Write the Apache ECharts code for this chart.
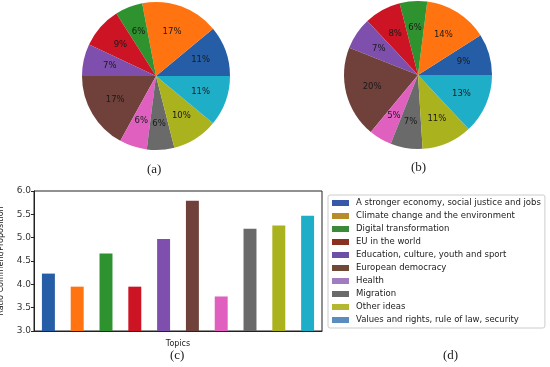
<!DOCTYPE html>
<html>
<head>
<meta charset="utf-8">
<script src="https://cdn.jsdelivr.net/npm/echarts@6/dist/echarts.min.js"></script>
<style>html,body{margin:0;padding:0;background:#fff}#c{width:550px;height:367px}</style>
</head>
<body>
<div id="c"></div>
<script>
const topics = [
  'A stronger economy, social justice and jobs',
  'Climate change and the environment',
  'Digital transformation',
  'EU in the world',
  'Education, culture, youth and sport',
  'European democracy',
  'Health',
  'Migration',
  'Other ideas',
  'Values and rights, rule of law, security'
];
const pieA = [11, 17, 6, 9, 7, 17, 6, 6, 10, 11];
const pieB = [9, 14, 6, 8, 7, 20, 5, 7, 11, 13];
const ratios = [4.23, 3.95, 4.66, 3.95, 4.97, 5.79, 3.74, 5.19, 5.26, 5.47];
const yTicks = [3.0, 3.5, 4.0, 4.5, 5.0, 5.5, 6.0];
const panelLabels = ['(a)', '(b)', '(c)', '(d)'];

const colors = ['#255ea6','#ff7410','#2e922e','#cc1424','#7e4fac','#70403a','#e060c0','#6a6a6a','#aab21e','#1eaec8'];
const legendColors = ['#3558a8','#b88c28','#3a8a3a','#8a3020','#6c50a8','#704838','#a07cc0','#6a6a6a','#b4b830','#5a8cc0'];

const FONT = 'DejaVu Sans';

function midAngles(arr) {
  const total = arr.reduce((a, b) => a + b, 0);
  let cum = 0;
  return arr.map(v => { const m = (cum + v / 2) / total * 2 * Math.PI; cum += v; return m; });
}

function pieSeries(vals, center, r) {
  const mids = midAngles(vals);
  return {
    type: 'pie',
    center: center,
    radius: [0, r],
    startAngle: 0,
    clockwise: false,
    animation: false,
    label: {
      position: 'inside',
      formatter: p => Math.round(p.percent) + '%',
      color: '#1a1a1a',
      fontFamily: FONT,
      fontSize: 8.5
    },
    labelLine: { show: false },
    emphasis: { disabled: true },
    itemStyle: { borderWidth: 0 },
    labelLayout: function (p) {
      const a = mids[p.dataIndex];
      return { dx: 0.1 * r * Math.cos(a), dy: -0.1 * r * Math.sin(a) };
    },
    data: vals.map((v, i) => ({ name: topics[i], value: v, itemStyle: { color: colors[i] } }))
  };
}

const chart = echarts.init(document.getElementById('c'), null, { renderer: 'canvas' });
const titleStyle = { fontFamily: 'Liberation Serif', fontSize: 13, fontWeight: 'normal', color: '#222' };
chart.setOption({
  animation: false,
  title: [
    { text: panelLabels[0], left: 147, top: 163, textStyle: titleStyle, padding: 0 },
    { text: panelLabels[1], left: 411, top: 161, textStyle: titleStyle, padding: 0 },
    { text: panelLabels[2], left: 170, top: 349, textStyle: titleStyle, padding: 0 },
    { text: panelLabels[3], left: 443, top: 349, textStyle: titleStyle, padding: 0 }
  ],
  legend: {
    orient: 'vertical',
    left: 328,
    top: 195,
    padding: [3, 4, 3, 4],
    itemGap: 3,
    itemWidth: 17,
    itemHeight: 6,
    icon: 'rect',
    borderColor: '#cccccc',
    borderWidth: 1,
    borderRadius: 2,
    selectedMode: false,
    textStyle: { fontFamily: FONT, fontSize: 8.5, color: '#222', lineHeight: 10, padding: [0, 0, 0, 2] },
    data: topics.map((t, i) => ({ name: t, itemStyle: { color: legendColors[i] } }))
  },
  grid: {
    left: 34, right: 228, top: 191, bottom: 36,
    outerBoundsMode: 'none',
    containLabel: false,
    show: true, borderColor: '#222', borderWidth: 1, backgroundColor: 'transparent'
  },
  xAxis: {
    type: 'category',
    data: topics,
    name: 'Topics',
    nameLocation: 'middle',
    nameGap: 9,
    nameTextStyle: { fontFamily: FONT, fontSize: 8, color: '#222' },
    axisLine: { lineStyle: { color: '#222' } },
    axisTick: { alignWithLabel: true, length: 3, lineStyle: { color: '#222' } },
    axisLabel: { show: false }
  },
  yAxis: {
    type: 'value',
    min: yTicks[0],
    max: yTicks[yTicks.length - 1],
    interval: 0.5,
    name: 'Ratio Comment/Proposition',
    nameLocation: 'middle',
    nameGap: 22,
    nameTextStyle: { fontFamily: FONT, fontSize: 8, lineHeight: 9, color: '#222' },
    axisLine: { show: true, lineStyle: { color: '#222' } },
    axisTick: { show: true, length: 3, lineStyle: { color: '#222' } },
    splitLine: { show: false },
    axisLabel: { fontFamily: FONT, fontSize: 9, color: '#333', margin: 3, formatter: v => v.toFixed(1) }
  },
  series: [
    pieSeries(pieA, [156, 76], 74),
    pieSeries(pieB, [418, 75], 74),
    {
      type: 'bar',
      barWidth: '45%',
      emphasis: { disabled: true },
      data: ratios.map((v, i) => ({ value: v, itemStyle: { color: colors[i] } }))
    }
  ]
});
</script>
</body>
</html>
